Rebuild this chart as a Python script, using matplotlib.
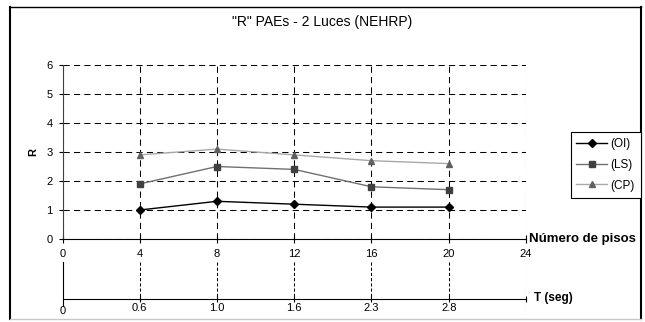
import matplotlib.pyplot as plt
from matplotlib.lines import Line2D

plt.rcParams['font.family'] = ['Liberation Sans', 'DejaVu Sans']

# numero de pisos y periodo correspondiente
pisos = [4, 8, 12, 16, 20]
periodos = ['0.6', '1.0', '1.6', '2.3', '2.8']

# factor R para cada nivel de desempeno
r_oi = [1.0, 1.3, 1.2, 1.1, 1.1]
r_ls = [1.9, 2.5, 2.4, 1.8, 1.7]
r_cp = [2.9, 3.1, 2.9, 2.7, 2.6]

W, H = 645, 322
fig = plt.figure(figsize=(W / 100, H / 100), dpi=100)


def fx(px):
  return px / W


def fy(py):
  return 1 - py / H


# marco exterior
fig.add_artist(Line2D([fx(10), fx(10)], [fy(7), fy(319)], color='black', lw=1.5))
fig.add_artist(Line2D([fx(10), fx(641)], [fy(7), fy(7)], color='black', lw=1.0))
fig.add_artist(Line2D([fx(641), fx(641)], [fy(7), fy(319)], color='black', lw=1.5))
fig.add_artist(Line2D([fx(10), fx(641)], [fy(319), fy(319)], color='#c8c8c8', lw=1.0))

fig.text(0.5, fy(22), '"R" PAEs - 2 Luces (NEHRP)', ha='center', va='center', fontsize=10)

#------------------------------------------------------------------------------------------------------------------------#
# grafico principal

ax = fig.add_axes([fx(62.5), fy(239), fx(526) - fx(62.5), fy(65) - fy(239)])
ax.set_xlim(0, 24)
ax.set_ylim(0, 6)
ax.set_xticks(range(0, 25, 4))
ax.set_yticks(range(0, 7))
ax.grid(True, color='black', lw=0.75, linestyle=(0, (6, 4)))
ax.set_axisbelow(True)
for s in ['top', 'right']:
  ax.spines[s].set_visible(False)
ax.spines['left'].set_color('#404040')
ax.spines['bottom'].set_color('black')
ax.tick_params(axis='x', direction='inout', length=6, labelsize=8, pad=4)
ax.tick_params(axis='y', direction='out', length=3, labelsize=8, pad=4)

ax.plot(pisos, r_oi, color='black', lw=1, marker='D', ms=4, label='(OI)')
ax.plot(pisos, r_ls, color='#707070', lw=1, marker='s', ms=4.5,
        mfc='#404040', mec='#404040', label='(LS)')
ax.plot(pisos, r_cp, color='#a8a8a8', lw=1, marker='^', ms=5,
        mfc='#606060', mec='#606060', label='(CP)')

ax.set_ylabel('R', fontsize=8, fontweight='bold', labelpad=6)
fig.text(fx(529), fy(239), 'Número de pisos', ha='left', va='center',
         fontsize=9.5, fontweight='bold')

leg = fig.legend(loc='upper right', bbox_to_anchor=(fx(641), fy(132)),
                 borderaxespad=0, fancybox=False, edgecolor='black',
                 fontsize=8.5, handlelength=2.6, labelspacing=0.75,
                 borderpad=0.5, handletextpad=0.3, framealpha=1)
leg.get_frame().set_linewidth(0.8)

#------------------------------------------------------------------------------------------------------------------------#
# eje secundario del periodo T

ax2 = fig.add_axes([fx(62.5), fy(317), fx(526) - fx(62.5), fy(262) - fy(317)])
ax2.set_xlim(0, 24)
ax2.set_ylim(0, 1)
ax2.patch.set_visible(False)
y_t = (317 - 299) / 55
for s in ['top', 'right']:
  ax2.spines[s].set_visible(False)
ax2.spines['bottom'].set_position(('data', y_t))
ax2.spines['bottom'].set_bounds(0, 24)
ax2.spines['left'].set_bounds(0.2, 1)
ax2.set_yticks([])
ax2.set_xticks(pisos + [24])
ax2.set_xticklabels(periodos + [''])
ax2.tick_params(axis='x', direction='inout', length=4, labelsize=8, pad=1)
for p in pisos:
  ax2.plot([p, p], [1, y_t], color='black', lw=0.75, linestyle=(0, (3, 2)))
ax2.plot([24, 24], [1, 0], color='black', lw=0.75, linestyle=(0, (3, 2)))
ax2.text(0, 0.1, '0', ha='center', va='center', fontsize=8)
fig.text(fx(534), fy(298), 'T (seg)', ha='left', va='center',
         fontsize=8.5, fontweight='bold')

fig.savefig('out.png', dpi=100)
